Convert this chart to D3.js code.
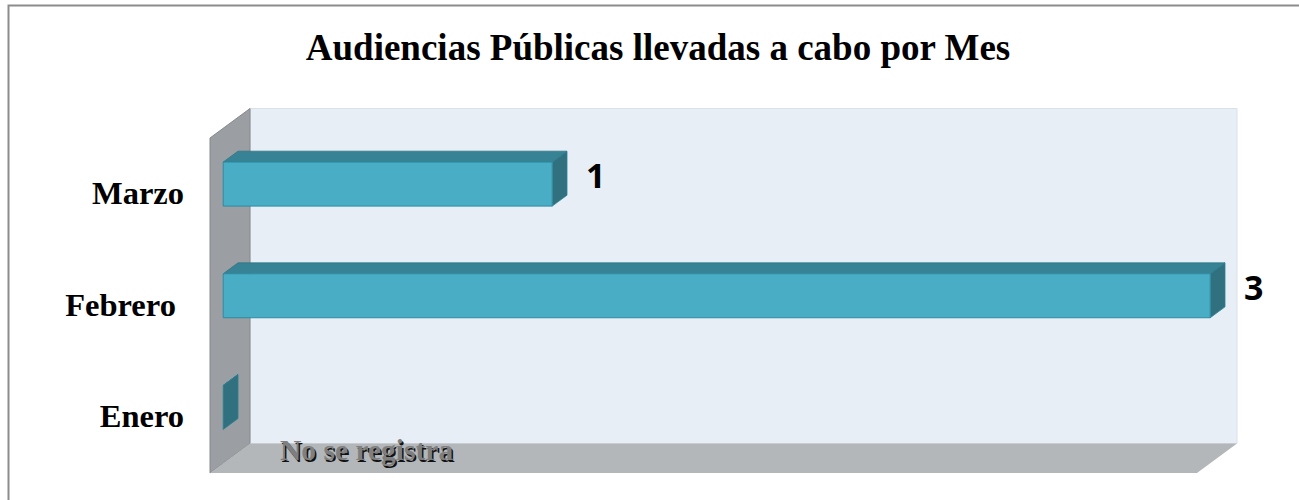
<!DOCTYPE html>
<html>
<head>
<meta charset="utf-8">
<script src="https://cdn.jsdelivr.net/npm/d3@7"></script>
<style>
  body { margin: 0; background: #fff; }
  svg { display: block; }
</style>
</head>
<body>
<div id="chart"></div>
<script>
// chart data
const title = "Audiencias Públicas llevadas a cabo por Mes";
const months = ["Marzo", "Febrero", "Enero"];
const monthLabels = ["Marzo", "Febrero ", "Enero"];
const audiencias = [1, 3, 0];
const emptyNote = "No se registra";
const axisMax = 3;

const width = 1299, height = 500;

// front plane of the 3D box, and how far back the walls go
const plot = { left: 210, right: 1197, top: 138, bottom: 473 };
const depth = { dx: 40, dy: -29.5 };
const barZ = [0.33, 0.7]; // bars sit in the middle of the depth

const svg = d3.select("#chart").append("svg")
    .attr("width", width)
    .attr("height", height);

// outer frame (runs off the right and bottom of the picture)
svg.append("rect")
    .attr("x", 8.5).attr("y", 5.5)
    .attr("width", 1400).attr("height", 600)
    .attr("fill", "none")
    .attr("stroke", "#8c8c8c")
    .attr("stroke-width", 2);

svg.append("text")
    .attr("x", 658)
    .attr("y", 60)
    .attr("text-anchor", "middle")
    .style("font-family", "'Liberation Serif', 'Times New Roman', serif")
    .style("font-weight", "bold")
    .style("font-size", "37px")
    .text(title);

const x = d3.scaleLinear().domain([0, axisMax]).range([plot.left, plot.right]);
const y = d3.scaleBand().domain(months).range([plot.top, plot.bottom])
    .paddingInner(0.606).paddingOuter(0.303);

const poly = pts => "M" + pts.map(p => p.join(",")).join("L") + "Z";
const off = (p, z) => [p[0] + depth.dx * z, p[1] + depth.dy * z];

// back wall
svg.append("path")
    .attr("d", poly([
        off([plot.left, plot.top], 1), off([plot.right, plot.top], 1),
        off([plot.right, plot.bottom], 1), off([plot.left, plot.bottom], 1)
    ]))
    .attr("fill", "#e7eef6")
    .attr("stroke", "#d9e0e8")
    .attr("stroke-width", 1);

// left wall
svg.append("path")
    .attr("d", poly([
        [plot.left, plot.top], off([plot.left, plot.top], 1),
        off([plot.left, plot.bottom], 1), [plot.left, plot.bottom]
    ]))
    .attr("fill", "#9b9ea2")
    .attr("stroke", "#85888c")
    .attr("stroke-width", 1);

// floor
svg.append("path")
    .attr("d", poly([
        [plot.left, plot.bottom], [plot.right, plot.bottom],
        off([plot.right, plot.bottom], 1), off([plot.left, plot.bottom], 1)
    ]))
    .attr("fill", "#b3b7ba");

// bars
const data = months.map((m, i) => ({ month: m, label: monthLabels[i], value: audiencias[i] }));

const bars = svg.append("g")
    .selectAll("g")
    .data(data)
    .enter().append("g");

bars.each(function(d) {
    const g = d3.select(this);
    const x0 = x(0), x1 = x(d.value);
    const y0 = y(d.month), y1 = y(d.month) + y.bandwidth();
    const [za, zb] = barZ;
    // top face
    g.append("path")
        .attr("d", poly([off([x0, y0], za), off([x1, y0], za), off([x1, y0], zb), off([x0, y0], zb)]))
        .attr("fill", "#378294")
        .attr("stroke", "#2f7686").attr("stroke-width", 0.8);
    // end face
    g.append("path")
        .attr("d", poly([off([x1, y0], za), off([x1, y0], zb), off([x1, y1], zb), off([x1, y1], za)]))
        .attr("fill", "#31707f")
        .attr("stroke", "#2b8196").attr("stroke-width", 0.8);
    // front face
    if (d.value > 0) {
        g.append("path")
            .attr("d", poly([off([x0, y0], za), off([x1, y0], za), off([x1, y1], za), off([x0, y1], za)]))
            .attr("fill", "#49adc6")
            .attr("stroke", "#2d8ba1").attr("stroke-width", 1);
    }
});

// value labels
svg.append("g")
    .selectAll("text")
    .data(data.filter(d => d.value > 0))
    .enter().append("text")
    .attr("x", d => x(d.value) + depth.dx * barZ[1] + 19)
    .attr("y", d => y(d.month) + y.bandwidth() / 2 - 6)
    .style("font-family", "'Open Sans', 'Liberation Sans', sans-serif")
    .style("font-weight", "bold")
    .style("font-size", "34px")
    .attr("fill", "#000")
    .text(d => d.value);

// category labels
svg.append("g")
    .selectAll("text")
    .data(data)
    .enter().append("text")
    .attr("x", 184)
    .attr("y", d => y(d.month) + y.bandwidth() / 2 + 10)
    .attr("text-anchor", "end")
    .style("white-space", "pre")
    .style("font-family", "'Liberation Serif', 'Times New Roman', serif")
    .style("font-weight", "bold")
    .style("font-size", "32.5px")
    .text(d => d.label);

// note on the floor for the empty month
const note = svg.append("g")
    .style("font-family", "'Liberation Serif', 'Times New Roman', serif")
    .style("font-weight", "bold")
    .style("font-size", "29.5px");
note.append("text").attr("x", 281.5).attr("y", 461.5).attr("fill", "#111").text(emptyNote);
note.append("text").attr("x", 280).attr("y", 460).attr("fill", "#7f7f7f").text(emptyNote);
</script>
</body>
</html>
